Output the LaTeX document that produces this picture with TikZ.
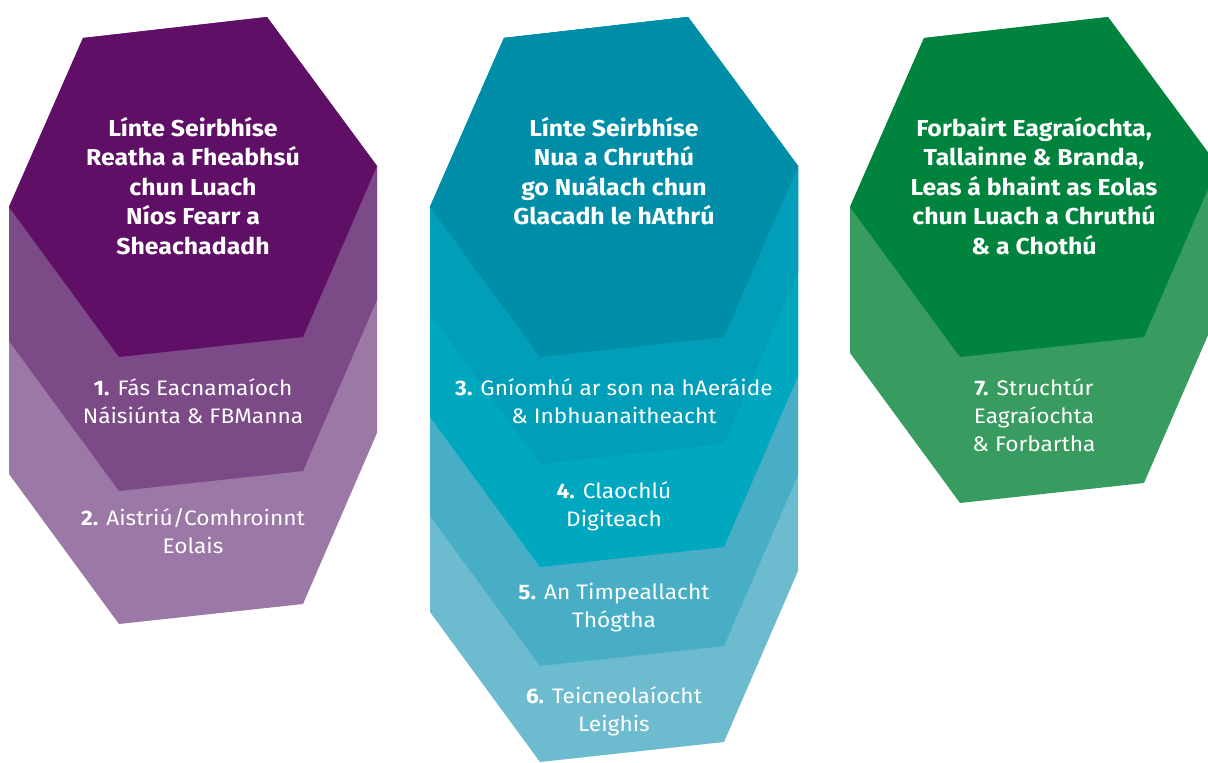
\documentclass[tikz,border=0pt]{standalone}
\usepackage{fontspec}
\setmainfont{Fira Sans}[FakeStretch=1.08]
\definecolor{purpleA}{HTML}{5F1066}
\definecolor{purpleB}{HTML}{7B4A87}
\definecolor{purpleC}{HTML}{9B78A6}
\definecolor{tealA}{HTML}{008DA8}
\definecolor{tealB}{HTML}{009EB8}
\definecolor{tealC}{HTML}{00A8BF}
\definecolor{tealD}{HTML}{47AEC6}
\definecolor{tealE}{HTML}{6DBBCF}
\definecolor{greenA}{HTML}{00843D}
\definecolor{greenB}{HTML}{389B60}
\begin{document}
\begin{tikzpicture}[x=1pt,y=-1pt,
    head/.style={text=white,align=center,anchor=north,inner sep=0pt,font=\bfseries\fontsize{23}{29.5}\selectfont},
    item/.style={text=white,align=center,anchor=north,inner sep=0pt,font=\fontsize{21}{28}\selectfont}]
    \def\hexa#1#2#3{\fill[#3,shift={(#1,0)}] (83,38) -- (267,17) -- (377,166) -- (377,{166+#2}) -- (303,{337+#2}) -- (119,{357+#2}) -- (9,{207+#2}) -- (9,207) -- cycle;}
    \useasboundingbox (0,0) rectangle (1208,763);
    \clip (0,0) rectangle (1208,763);
    %\draw[gray,dash pattern=on 1pt off 1pt,step=50] (0,0) grid (1208,763);
    % purple column
    \hexa{0}{267}{purpleC}
    \hexa{0}{134}{purpleB}
    \hexa{0}{0}{purpleA}
    \node[head] (current) at (193,117) {Línte Seirbhíse\\Reatha a Fheabhsú\\chun Luach\\Níos Fearr a\\Sheachadadh};
    \node[item] (growth) at (193,378) {{\bfseries 1.} Fás Eacnamaíoch\\Náisiúnta \& FBManna};
    \node[item] (transfer) at (193,508) {{\bfseries 2.} Aistriú/Comhroinnt\\Eolais};
    % teal column
    \hexa{421}{405}{tealE}
    \hexa{421}{309}{tealD}
    \hexa{421}{210}{tealC}
    \hexa{421}{107}{tealB}
    \hexa{421}{0}{tealA}
    \node[head] (new) at (614,117) {Línte Seirbhíse\\Nua a Chruthú\\go Nuálach chun\\Glacadh le hAthrú};
    \node[item] (climate) at (614,378) {{\bfseries 3.} Gníomhú ar son na hAeráide\\\& Inbhuanaitheacht};
    \node[item] (digital) at (614,481) {{\bfseries 4.} Claochlú\\Digiteach};
    \node[item] (built) at (614,583) {{\bfseries 5.} An Timpeallacht\\Thógtha};
    \node[item] (medtech) at (614,686) {{\bfseries 6.} Teicneolaíocht\\Leighis};
    % green column
    \hexa{841}{146}{greenB}
    \hexa{841}{0}{greenA}
    \node[head] (org) at (1034,117) {Forbairt Eagraíochta,\\Tallainne \& Branda,\\Leas á bhaint as Eolas\\chun Luach a Chruthú\\\& a Chothú};
    \node[item] (structure) at (1034,378) {{\bfseries 7.} Struchtúr\\Eagraíochta\\\& Forbartha};
\end{tikzpicture}
\end{document}
